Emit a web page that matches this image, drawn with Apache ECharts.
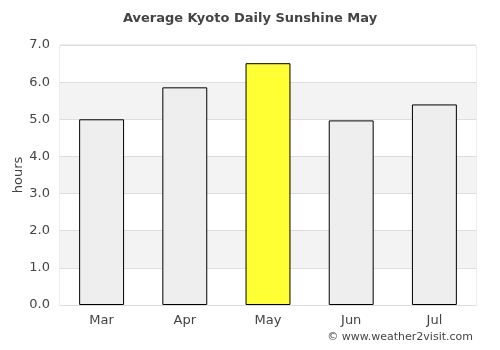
<!DOCTYPE html>
<html>
<head>
<meta charset="utf-8">
<script src="https://cdn.jsdelivr.net/npm/echarts@6/dist/echarts.min.js"></script>
<style>
  html, body { margin: 0; padding: 0; background: #fff; }
  #chart { width: 500px; height: 350px; }
</style>
</head>
<body>
<div id="chart"></div>
<script>
// data
var months = ['Mar', 'Apr', 'May', 'Jun', 'Jul']
var sunshineHours = [5.0, 5.86, 6.51, 4.97, 5.4]
var highlightMonth = 'May'

var chart = echarts.init(document.getElementById('chart'))

chart.setOption({
    backgroundColor: '#ffffff',
    animation: false,
    textStyle: { fontFamily: 'DejaVu Sans' },
    title: {
        text: 'Average Kyoto Daily Sunshine May',
        left: 'center',
        top: 7,
        textStyle: { fontSize: 13, fontWeight: 'bold', color: '#444' }
    },
    graphic: [{
        // y axis title
        type: 'text',
        x: 19,
        y: 175,
        rotation: Math.PI / 2,
        style: {
            text: 'hours',
            font: '13px DejaVu Sans',
            fill: '#444',
            align: 'center',
            verticalAlign: 'middle'
        }
    }, {
        type: 'text',
        right: 27,
        top: 332,
        style: {
            text: '© www.weather2visit.com',
            font: '11px DejaVu Sans',
            fill: '#444'
        }
    }],
    grid: {
        left: 60,
        right: 24,
        top: 45,
        bottom: 45,
        outerBoundsMode: 'none',
        show: true,
        borderColor: '#dddddd',
        borderWidth: 1
    },
    xAxis: {
        type: 'category',
        data: months,
        axisLine: { show: true, lineStyle: { color: '#dddddd' } },
        axisTick: { show: false },
        axisLabel: { color: '#444', fontSize: 13, margin: 9 }
    },
    yAxis: {
        type: 'value',
        min: 0,
        max: 7,
        interval: 1,
        axisLine: { show: false },
        axisTick: { show: false },
        axisLabel: {
            color: '#444',
            fontSize: 13,
            margin: 10,
            formatter: function (v) { return v.toFixed(1) }
        },
        splitLine: { lineStyle: { color: '#dddddd' } },
        splitArea: { show: true, areaStyle: { color: ['#ffffff', '#f3f3f3'] } }
    },
    series: [{
        type: 'bar',
        barWidth: '54%',
        data: sunshineHours.map(function (v, i) {
            return {
                value: v,
                itemStyle: { color: months[i] === highlightMonth ? '#ffff33' : '#eeeeee' }
            }
        }),
        itemStyle: { borderColor: '#000', borderWidth: 1 }
    }]
})
</script>
</body>
</html>
